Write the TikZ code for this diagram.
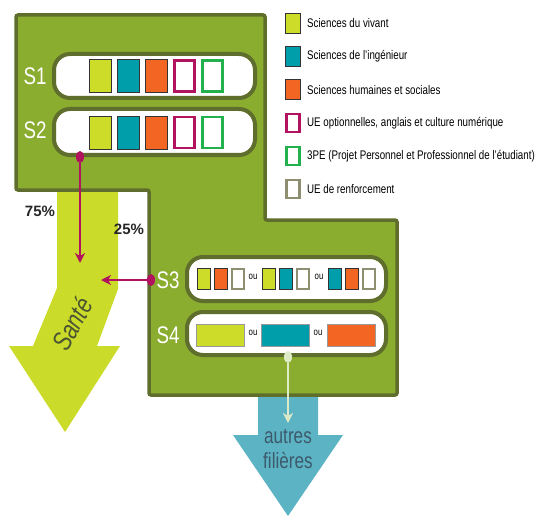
\documentclass[tikz,border=0pt]{standalone}
\usepackage{fontspec}
\setmainfont{Liberation Sans}
\newfontfamily\narrowfont[FakeStretch=0.78]{Liberation Sans}
\usetikzlibrary{arrows.meta,shapes.geometric}

\definecolor{panel}{HTML}{8AAC2F}
\definecolor{panelline}{HTML}{5F6E2C}
\definecolor{vivant}{HTML}{CCDC28}
\definecolor{inge}{HTML}{009DAA}
\definecolor{humaine}{HTML}{F26522}
\definecolor{option}{HTML}{B2135E}
\definecolor{projet}{HTML}{22B14C}
\definecolor{renfort}{HTML}{8E8E70}
\definecolor{sante}{HTML}{CBDB2A}
\definecolor{autres}{HTML}{5BB3C3}
\definecolor{autrestext}{HTML}{3D5A6C}
\definecolor{santetext}{HTML}{4B5531}
\definecolor{pale}{HTML}{DCEBC6}

\tikzset{
  tile/.style={draw=black!80, line width=0.8pt, inner sep=0pt, minimum width=22pt, minimum height=33pt},
  hollow/.style={fill=white, line width=2.6pt, inner sep=0pt, minimum width=20pt, minimum height=31pt},
  small/.style={draw=black!80, line width=0.8pt, inner sep=0pt, minimum width=13pt, minimum height=21pt},
  smallhollow/.style={draw=renfort, fill=white, line width=2pt, inner sep=0pt, minimum width=12pt, minimum height=20pt},
  wide/.style={draw=black!40, line width=0.8pt, inner sep=0pt, minimum width=48pt, minimum height=22pt},
  key/.style={draw=black!80, line width=0.8pt, inner sep=0pt, minimum width=15pt, minimum height=20pt},
  keyhollow/.style={fill=white, line width=2.2pt, inner sep=0pt, minimum width=13pt, minimum height=18pt},
  pill/.style={draw=panelline, fill=white, line width=4pt, rounded corners=16pt, minimum width=201pt, minimum height=44pt, inner sep=0pt},
  sem/.style={text=white, font=\narrowfont\fontsize{24}{24}\selectfont},
  ou/.style={font=\narrowfont\fontsize{10}{10}\selectfont, inner sep=0pt},
  keytext/.style={anchor=west, inner sep=0pt, font=\narrowfont\fontsize{12.5}{14}\selectfont},
  pct/.style={font=\bfseries\fontsize{15}{15}\selectfont, text=black!85},
  dot/.style={ellipse, inner sep=0pt, minimum width=8pt, minimum height=12pt},
  link/.style={line width=2pt, -{Stealth[length=10pt,width=10pt,inset=3pt]}},
}

\begin{document}
\begin{tikzpicture}[x=1pt, y=-1pt]
\useasboundingbox (0,0) rectangle (538,516);

\fill[sante] (57,190) -- (118,190) -- (118,289) -- (97,346) -- (120,346) -- (65,432)
  -- (9,346) -- (33,346) -- (57,288) -- cycle;
\fill[autres] (258,393) -- (318,393) -- (318,435) -- (343,435) -- (288,516)
  -- (233,435) -- (258,435) -- cycle;

\draw[fill=panel, draw=panelline, line width=3.5pt, rounded corners=2pt]
  (16,15) -- (265,15) -- (265,220) -- (397,220) -- (397,395) -- (149,395)
  -- (149,190) -- (16,190) -- cycle;

\node[pill] (s1) at (154.5,76) {};
\node[pill, minimum height=46pt] (s2) at (154.5,132) {};
\node[pill, minimum width=199pt] (s3) at (286.5,279) {};
\node[pill, minimum width=199pt, minimum height=43pt] (s4) at (286.5,333.5) {};

\node[sem] (l1) at (35,76) {S1};
\node[sem] (l2) at (35,130) {S2};
\node[sem] (l3) at (168,280) {S3};
\node[sem] (l4) at (168,335) {S4};

\foreach \row/\y in {1/76, 2/132.5} {
  \node[tile, fill=vivant] (v\row) at (100,\y) {};
  \node[tile, fill=inge] (i\row) at (128.5,\y) {};
  \node[tile, fill=humaine] (h\row) at (156.5,\y) {};
  \node[hollow, draw=option] (o\row) at (184.5,\y) {};
  \node[hollow, draw=projet] (p\row) at (212.5,\y) {};
}

\foreach \c/\d/\x [count=\i] in {vivant/humaine/204, vivant/inge/269, inge/humaine/334.5} {
  \node[small, fill=\c] (a\i) at (\x,279) {};
  \node[small, fill=\d] (b\i) at (\x+17,279) {};
  \node[smallhollow] (r\i) at (\x+34,279) {};
}
\node[ou] (ou1) at (253,277) {ou};
\node[ou] (ou2) at (319,277) {ou};

\node[wide, fill=vivant] (w1) at (220.5,335.5) {};
\node[wide, fill=inge] (w2) at (285.5,335.5) {};
\node[wide, fill=humaine] (w3) at (351.5,335.5) {};
\node[ou] (ou3) at (253,333) {ou};
\node[ou] (ou4) at (318,333) {ou};

\node[dot, fill=option] (d2) at (80,157) {};
\coordinate (e2) at (80,263);
\draw[link, draw=option] (d2) -- (e2);
\node[dot, fill=option] (d3) at (151,280) {};
\coordinate (e3) at (101,280);
\draw[link, draw=option] (d3) -- (e3);
\node[dot, fill=pale] (d4) at (288,357) {};
\coordinate (e4) at (288,423);
\draw[link, draw=pale] (d4) -- (e4);

\node[pct] (p75) at (40,211) {75\%};
\node[pct] (p25) at (129,229) {25\%};

\node[rotate=61, text=santetext, font=\narrowfont\itshape\fontsize{27}{27}\selectfont] (sa) at (72,324) {Santé};
\node[align=center, text=autrestext, font=\narrowfont\fontsize{22}{25}\selectfont] (af) at (288,449) {autres\\filières};

\foreach \c/\t [count=\i] in {vivant/{Sciences du vivant}, inge/{Sciences de l’ingénieur}, humaine/{Sciences humaines et sociales}} {
  \node[key, fill=\c] (k\i) at (293,{23.5+33.1*(\i-1)}) {};
  \node[keytext] (t\i) at (307,{23.5+33.1*(\i-1)}) {\t};
}
\foreach \c/\t [count=\i from 4] in {option/{UE optionnelles, anglais et culture numérique}, projet/{3PE (Projet Personnel et Professionnel de l’étudiant)}, renfort/{UE de renforcement}} {
  \node[keyhollow, draw=\c] (k\i) at (293,{23.5+33.1*(\i-1)}) {};
  \node[keytext] (t\i) at (307,{23.5+33.1*(\i-1)}) {\t};
}
\end{tikzpicture}
\end{document}
